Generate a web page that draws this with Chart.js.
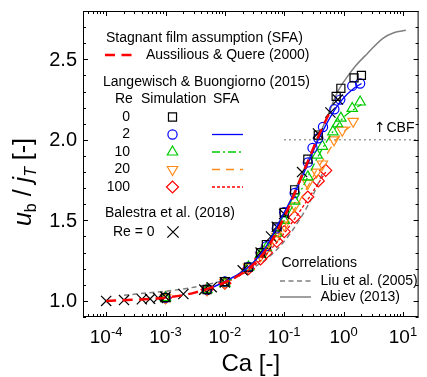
<!DOCTYPE html>
<html>
<head>
<meta charset="utf-8">
<script src="https://cdn.jsdelivr.net/npm/chart.js@4.4.0/dist/chart.umd.min.js"></script>
<style>
  html, body { margin: 0; padding: 0; background: #fff; }
  canvas { display: block; }
</style>
</head>
<body>
<canvas id="bubbleChart" width="427" height="377"></canvas>
<script>
// ========== DATA ==========

const xTicks = [1e-4, 1e-3, 1e-2, 1e-1, 1, 10];
const yTicks = [1.0, 1.5, 2.0, 2.5];

// Langewisch & Buongiorno (2015) simulations
const re0Ca = [0.001, 0.005, 0.01, 0.025, 0.04, 0.05, 0.075, 0.1, 0.15, 0.25, 0.375, 0.75, 0.9, 1.5, 2.0];
const re0Ub = [1.02, 1.07, 1.12, 1.21, 1.30, 1.35, 1.46, 1.55, 1.69, 1.88, 2.03, 2.27, 2.32, 2.385, 2.40];

const re2Ca = [0.001, 0.005, 0.01, 0.025, 0.04, 0.05, 0.075, 0.1, 0.15, 0.25, 0.3, 0.375, 0.45, 0.7, 0.88, 1.4, 1.9];
const re2Ub = [1.02, 1.07, 1.12, 1.21, 1.30, 1.34, 1.45, 1.55, 1.67, 1.86, 1.95, 2.01, 2.08, 2.19, 2.25, 2.335, 2.35];

const re10Ca = [0.001, 0.005, 0.01, 0.025, 0.04, 0.05, 0.075, 0.1, 0.15, 0.25, 0.36, 0.44, 0.66, 0.79, 0.9, 1.4, 1.9];
const re10Ub = [1.02, 1.07, 1.11, 1.21, 1.29, 1.33, 1.42, 1.50, 1.62, 1.77, 1.905, 1.96, 2.05, 2.10, 2.135, 2.195, 2.235];

const re20Ca = [0.001, 0.005, 0.01, 0.025, 0.04, 0.05, 0.075, 0.1, 0.15, 0.25, 0.35, 0.44, 0.69, 0.95, 1.45];
const re20Ub = [1.02, 1.07, 1.115, 1.21, 1.28, 1.32, 1.40, 1.47, 1.59, 1.73, 1.80, 1.85, 2.0, 2.06, 2.115];

const re100Ca = [0.001, 0.005, 0.01, 0.025, 0.04, 0.05, 0.075, 0.1, 0.15, 0.25, 0.375, 0.5];
const re100Ub = [1.02, 1.07, 1.11, 1.20, 1.26, 1.30, 1.37, 1.43, 1.52, 1.645, 1.745, 1.81];

// SFA curves from the same work
const sfa2Ca = [0.005, 0.01, 0.025, 0.05, 0.1, 0.15, 0.25, 0.375, 0.5, 0.75, 1.0, 1.5, 2.0];
const sfa2Ub = [1.07, 1.12, 1.21, 1.34, 1.55, 1.67, 1.85, 2.0, 2.09, 2.2, 2.26, 2.32, 2.35];
const sfa10Ca = [0.01, 0.025, 0.05, 0.1, 0.15, 0.25, 0.375, 0.5, 0.75, 1.0, 1.5, 2.0];
const sfa10Ub = [1.11, 1.21, 1.33, 1.5, 1.61, 1.77, 1.9, 1.98, 2.08, 2.14, 2.19, 2.22];
const sfa20Ca = [0.01, 0.025, 0.05, 0.1, 0.15, 0.25, 0.375, 0.5, 0.75, 1.0, 1.5];
const sfa20Ub = [1.11, 1.2, 1.31, 1.46, 1.57, 1.71, 1.83, 1.9, 2.0, 2.05, 2.1];
const sfa100Ca = [0.01, 0.025, 0.05, 0.1, 0.15, 0.25, 0.375, 0.5];
const sfa100Ub = [1.11, 1.19, 1.29, 1.42, 1.51, 1.63, 1.73, 1.8];

// Balestra et al. (2018), Re = 0
const balCa = [1e-4, 2e-4, 4e-4, 5.5e-4, 7.5e-4, 1e-3, 2e-3, 4.5e-3, 6e-3, 1e-2, 2e-2, 4e-2, 6e-2, 7.5e-2, 0.1, 0.2, 0.37, 0.6, 0.8];
const balUb = [1.0, 1.005, 1.01, 1.013, 1.018, 1.025, 1.043, 1.07, 1.085, 1.115, 1.19, 1.30, 1.40, 1.46, 1.54, 1.80, 2.04, 2.17, 2.25];

// Aussillious & Quere (2000)
const aqCa = [1e-4, 3e-4, 1e-3, 3e-3, 1e-2, 0.025, 0.05, 0.1, 0.2, 0.375, 0.6];
const aqUb = [1.0, 1.007, 1.02, 1.05, 1.115, 1.2, 1.32, 1.52, 1.78, 2.02, 2.18];

// Correlations
const liuCa = [2e-4, 5e-4, 1e-3, 3e-3, 1e-2, 0.025, 0.05, 0.1, 0.2, 0.3, 0.45];
const liuUb = [1.035, 1.05, 1.06, 1.085, 1.13, 1.19, 1.26, 1.37, 1.53, 1.65, 1.80];
const abievCa = [0.05, 0.1, 0.25, 0.5, 0.8, 1.2, 1.6, 2.5, 4.6, 7, 11.2];
const abievUb = [1.33, 1.54, 1.87, 2.12, 2.30, 2.40, 2.46, 2.535, 2.63, 2.665, 2.68];

// CBF limit
const cbfCa = [0.1, 20];
const cbfUb = [2.0, 2.0];

// ========== HELPERS ==========

const FONT = "'Liberation Sans', Arial, sans-serif";
const pts = (xs, ys) => xs.map((x, i) => ({ x: x, y: ys[i] }));

function markerSet(label, xs, ys, style, color, radius, rotation) {
    return {
        label: label,
        data: pts(xs, ys),
        showLine: false,
        pointStyle: style,
        pointRadius: radius,
        pointRotation: rotation || 0,
        pointBorderColor: color,
        pointBackgroundColor: 'rgba(0,0,0,0)',
        pointBorderWidth: 1.2,
        order: 3
    };
}

function lineSet(label, xs, ys, color, width, dash, order) {
    return {
        label: label,
        data: pts(xs, ys),
        showLine: true,
        borderColor: color,
        borderWidth: width,
        borderDash: dash,
        pointRadius: 0,
        cubicInterpolationMode: 'monotone',
        order: order
    };
}

function drawMarker(ctx, style, x, y, r, color) {
    ctx.save();
    ctx.strokeStyle = color;
    ctx.lineWidth = 1.2;
    ctx.setLineDash([]);
    ctx.beginPath();
    if (style === 'rect') {
        const s = r * Math.SQRT1_2;
        ctx.rect(x - s, y - s, 2 * s, 2 * s);
    } else if (style === 'circle') {
        ctx.arc(x, y, r, 0, Math.PI * 2);
    } else if (style === 'triangle' || style === 'triangleDown') {
        const sgn = style === 'triangle' ? 1 : -1;
        for (let k = 0; k < 3; k++) {
            const a = k * 2 * Math.PI / 3;
            const px = x + Math.sin(a) * r * sgn;
            const py = y - Math.cos(a) * r * sgn;
            if (k === 0) ctx.moveTo(px, py); else ctx.lineTo(px, py);
        }
        ctx.closePath();
    } else if (style === 'rectRot') {
        ctx.moveTo(x - r, y); ctx.lineTo(x, y - r); ctx.lineTo(x + r, y); ctx.lineTo(x, y + r);
        ctx.closePath();
    } else if (style === 'crossRot') {
        const s = r * Math.SQRT1_2;
        ctx.moveTo(x - s, y - s); ctx.lineTo(x + s, y + s);
        ctx.moveTo(x + s, y - s); ctx.lineTo(x - s, y + s);
    }
    ctx.stroke();
    ctx.restore();
}

function sampleLine(ctx, x1, x2, y, color, width, dash) {
    ctx.save();
    ctx.strokeStyle = color;
    ctx.lineWidth = width;
    ctx.setLineDash(dash);
    ctx.beginPath();
    ctx.moveTo(x1, y);
    ctx.lineTo(x2, y);
    ctx.stroke();
    ctx.restore();
}

// ========== AXES: frame, inward ticks, labels ==========

const axesPlugin = {
    id: 'axesPlugin',
    afterDraw(chart) {
        const { ctx, chartArea: a, scales: { x, y } } = chart;
        ctx.save();
        ctx.strokeStyle = '#000';
        ctx.lineWidth = 1;
        ctx.strokeRect(a.left + 0.5, a.top + 0.5, a.right - a.left - 1, a.bottom - a.top - 1);

        ctx.beginPath();
        for (let e = -5; e <= 1; e++) {
            for (let m = 1; m <= 9; m++) {
                const v = m * Math.pow(10, e);
                if (v < x.min || v > x.max) continue;
                const px = Math.round(x.getPixelForValue(v)) + 0.5;
                const len = m === 1 ? 5 : 3;
                ctx.moveTo(px, a.bottom); ctx.lineTo(px, a.bottom - len);
                ctx.moveTo(px, a.top); ctx.lineTo(px, a.top + len);
            }
        }
        for (let i = 9; i <= 28; i++) {
            const v = i / 10;
            const py = Math.round(y.getPixelForValue(v)) + 0.5;
            const len = i % 5 === 0 ? 5 : 3;
            ctx.moveTo(a.left, py); ctx.lineTo(a.left + len, py);
            ctx.moveTo(a.right, py); ctx.lineTo(a.right - len, py);
        }
        ctx.stroke();

        ctx.fillStyle = '#000';
        // y tick labels
        ctx.font = `20px ${FONT}`;
        ctx.textAlign = 'right';
        ctx.textBaseline = 'middle';
        yTicks.forEach(v => ctx.fillText(v.toFixed(1), a.left - 6, y.getPixelForValue(v) + 1));

        // x tick labels as 10^n
        ctx.textAlign = 'left';
        ctx.textBaseline = 'alphabetic';
        xTicks.forEach(v => {
            const sup = String(Math.round(Math.log10(v)));
            ctx.font = `19px ${FONT}`;
            const w1 = ctx.measureText('10').width;
            ctx.font = `13px ${FONT}`;
            const w2 = ctx.measureText(sup).width;
            const left = x.getPixelForValue(v) - (w1 + w2) / 2;
            ctx.font = `19px ${FONT}`;
            ctx.fillText('10', left, a.bottom + 26);
            ctx.font = `13px ${FONT}`;
            ctx.fillText(sup, left + w1, a.bottom + 19);
        });

        // axis titles
        ctx.font = `24px ${FONT}`;
        ctx.textAlign = 'center';
        ctx.fillText('Ca [-]', (a.left + a.right) / 2, 371);

        ctx.translate(31, 182);
        ctx.rotate(-Math.PI / 2);
        const parts = [
            { t: 'u', f: `italic 25px ${FONT}`, dy: 0 },
            { t: 'b', f: `16px ${FONT}`, dy: 5 },
            { t: ' / ', f: `25px ${FONT}`, dy: 0 },
            { t: 'j', f: `italic 25px ${FONT}`, dy: 0 },
            { t: 'T', f: `italic 16px ${FONT}`, dy: 5 },
            { t: ' [-]', f: `25px ${FONT}`, dy: 0 }
        ];
        let total = 0;
        parts.forEach(p => { ctx.font = p.f; p.w = ctx.measureText(p.t).width; total += p.w; });
        let cx = -total / 2;
        ctx.textAlign = 'left';
        parts.forEach(p => { ctx.font = p.f; ctx.fillText(p.t, cx, p.dy); cx += p.w; });
        ctx.restore();
    }
};

// ========== LEGEND (drawn inside the plot) ==========

const legendPlugin = {
    id: 'legendPlugin',
    afterDraw(chart) {
        const ctx = chart.ctx;
        ctx.save();
        ctx.fillStyle = '#000';
        ctx.font = `14px ${FONT}`;
        ctx.textBaseline = 'middle';
        ctx.textAlign = 'left';

        ctx.fillText('Stagnant film assumption (SFA)', 106, 38);
        sampleLine(ctx, 105, 132, 55, '#ff0000', 2.5, [10, 6.5]);
        ctx.fillText('Aussilious & Quere (2000)', 146, 55);

        ctx.fillText('Langewisch & Buongiorno (2015)', 103, 82);
        ctx.fillText('Re', 115, 99.5);
        ctx.fillText('Simulation', 141, 99.5);
        ctx.fillText('SFA', 213, 99.5);

        const rows = [
            { re: '0', style: 'rect', r: 5.7, color: '#000000', dash: null },
            { re: '2', style: 'circle', r: 4.6, color: '#0000ff', dash: [] },
            { re: '10', style: 'triangle', r: 6, color: '#00cc00', dash: [8, 3, 2, 3] },
            { re: '20', style: 'triangleDown', r: 6, color: '#ff8c1a', dash: [8, 6] },
            { re: '100', style: 'rectRot', r: 6, color: '#ff0000', dash: [3, 2] }
        ];
        rows.forEach((row, i) => {
            const yy = 117 + i * 17.5;
            ctx.textAlign = 'right';
            ctx.fillText(row.re, 130, yy);
            drawMarker(ctx, row.style, 172.5, yy, row.r, row.color);
            if (row.dash) sampleLine(ctx, 212, 243, yy, row.color, 1.3, row.dash);
        });

        ctx.textAlign = 'left';
        ctx.fillText('Balestra et al. (2018)', 105, 213.5);
        ctx.fillText('Re = 0', 113, 232);
        drawMarker(ctx, 'crossRot', 173, 232, 8, '#000000');

        ctx.fillText('Correlations', 281.5, 263);
        sampleLine(ctx, 280, 311, 281, '#808080', 1.5, [5, 3.5]);
        ctx.fillText('Liu et al. (2005)', 320.5, 281);
        sampleLine(ctx, 280, 311, 297, '#808080', 1.5, []);
        ctx.fillText('Abiev (2013)', 320.5, 297);

        ctx.font = `14px 'DejaVu Sans', ${FONT}`;
        ctx.fillText('\u2191', 374, 128.5);
        ctx.font = `14px ${FONT}`;
        ctx.fillText('CBF', 386.5, 128.5);
        ctx.restore();
    }
};

// ========== CHART ==========

const ctx = document.getElementById('bubbleChart').getContext('2d');

new Chart(ctx, {
    type: 'scatter',
    data: {
        datasets: [
            markerSet('Balestra et al. (2018)', balCa, balUb, 'crossRot', '#000000', 7.2),
            lineSet('Aussilious & Quere (2000)', aqCa, aqUb, '#ff0000', 2.5, [10, 6.5], 1),
            lineSet('SFA Re=2', sfa2Ca, sfa2Ub, '#0000ff', 1.3, [], 2),
            lineSet('SFA Re=10', sfa10Ca, sfa10Ub, '#00cc00', 1.3, [8, 3, 2, 3], 2),
            lineSet('SFA Re=20', sfa20Ca, sfa20Ub, '#ff8c1a', 1.3, [8, 6], 2),
            lineSet('SFA Re=100', sfa100Ca, sfa100Ub, '#ff0000', 1.3, [3, 2], 2),
            markerSet('Re=0', re0Ca, re0Ub, 'rect', '#000000', 5.7),
            markerSet('Re=2', re2Ca, re2Ub, 'circle', '#0000ff', 4.6),
            markerSet('Re=10', re10Ca, re10Ub, 'triangle', '#00cc00', 6),
            markerSet('Re=20', re20Ca, re20Ub, 'triangle', '#ff8c1a', 6, 180),
            markerSet('Re=100', re100Ca, re100Ub, 'rectRot', '#ff0000', 6),
            lineSet('Liu et al. (2005)', liuCa, liuUb, '#808080', 1.5, [5, 3.5], 5),
            lineSet('Abiev (2013)', abievCa, abievUb, '#808080', 1.5, [], 5),
            lineSet('CBF', cbfCa, cbfUb, '#808080', 1.5, [1.5, 3.5], 6)
        ]
    },
    options: {
        responsive: false,
        animation: false,
        events: [],
        layout: { padding: { left: 83, top: 11, right: 1, bottom: 60 } },
        plugins: {
            legend: { display: false },
            tooltip: { enabled: false }
        },
        scales: {
            x: {
                type: 'logarithmic',
                display: false,
                min: Math.pow(10, -4.39),
                max: Math.pow(10, 1.264)
            },
            y: {
                type: 'linear',
                display: false,
                min: 0.9,
                max: 2.8
            }
        }
    },
    plugins: [axesPlugin, legendPlugin]
});
</script>
</body>
</html>
